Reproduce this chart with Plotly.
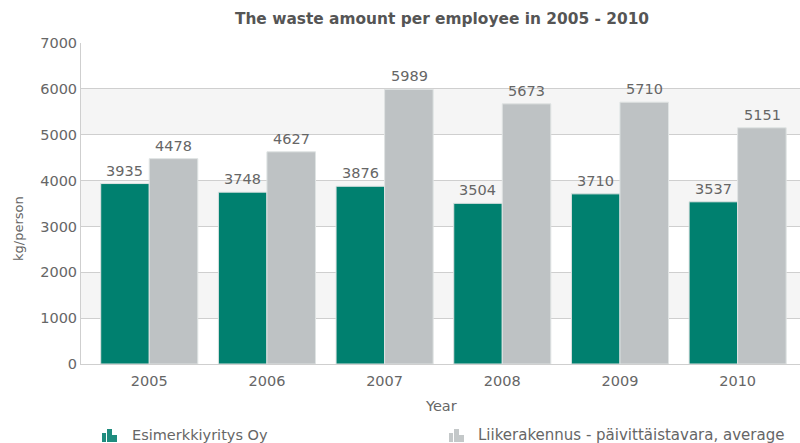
import plotly.graph_objects as go

years = ["2005", "2006", "2007", "2008", "2009", "2010"]
company = [3935, 3748, 3876, 3504, 3710, 3537]
average = [4478, 4627, 5989, 5673, 5710, 5151]
company_name = "Esimerkkiyritys Oy"
average_name = "Liikerakennus - päivittäistavara, average"
bands = [(1000, 2000), (3000, 4000), (5000, 6000)]

W, H = 800, 443
L, R, T, B = 81, 800, 43, 364
TXT = "#666666"
GRID = "#cfcfcf"
FONT = "DejaVu Sans"

fig = go.Figure()
for name, vals, col in [(company_name, company, "#00806F"), (average_name, average, "#BEC2C4")]:
    fig.add_bar(x=years, y=vals, name=name, marker=dict(color=col, line=dict(color="#dfe3e3", width=1)),
                showlegend=False)

shapes = []
for a, b in bands:
    shapes.append(dict(type="rect", xref="paper", yref="y", x0=0, x1=1, y0=a, y1=b,
                       fillcolor="#f5f5f5", line_width=0, layer="below"))

def icon(x0, col):
    for dx, w, h in [(0, 4, 9), (5, 5, 13), (10, 5, 7)]:
        shapes.append(dict(type="rect", xref="paper", yref="paper",
                           x0=(x0 + dx - L) / (R - L), x1=(x0 + dx + w - L) / (R - L),
                           y0=(B - 442) / (B - T), y1=(B - 442 + h) / (B - T),
                           fillcolor=col, line_width=0))
icon(102, "#1f8c7e")
icon(449, "#c4c8c9")

annotations = [
    dict(text=company_name, xref="paper", yref="paper", x=(130 - L) / (R - L), y=(B - 435) / (B - T),
         xanchor="left", yanchor="middle", showarrow=False, font=dict(family=FONT, size=14.5, color=TXT)),
    dict(text=average_name, xref="paper", yref="paper", x=(476 - L) / (R - L), y=(B - 435) / (B - T),
         xanchor="left", yanchor="middle", showarrow=False, font=dict(family=FONT, size=15, color=TXT)),
    dict(text="kg/person", xref="paper", yref="paper", x=(18 - L) / (R - L), y=(B - 229) / (B - T),
         xanchor="center", yanchor="middle", textangle=-90, showarrow=False,
         font=dict(family=FONT, size=13, color=TXT)),
    dict(text="Year", xref="paper", yref="paper", x=(441 - L) / (R - L), y=(B - 406) / (B - T),
         xanchor="center", yanchor="middle", showarrow=False, font=dict(family=FONT, size=14.5, color=TXT)),
]
for vals, shift in [(company, -24.5), (average, 24.5)]:
    for i, v in enumerate(vals):
        annotations.append(dict(text=str(v), x=i, y=v, xref="x", yref="y", xshift=shift, yshift=3,
                                xanchor="center", yanchor="bottom", showarrow=False,
                                font=dict(family=FONT, size=14.5, color=TXT)))

fig.update_layout(
    width=W, height=H, autosize=False, barmode="group", bargap=0.175, bargroupgap=0,
    margin=dict(l=L, r=W - R, t=T, b=H - B), paper_bgcolor="white", plot_bgcolor="white",
    title=dict(text="<b>The waste amount per employee in 2005 - 2010</b>", x=442/W, xanchor="center",
               y=1 - 19/H, yanchor="middle", font=dict(family=FONT, size=15.4, color="#555555")),
    shapes=shapes, annotations=annotations, showlegend=False,
    xaxis=dict(type="category", range=[-0.58, 5.53], showgrid=False, ticks="outside", ticklen=4, tickcolor="rgba(0,0,0,0)",
               showline=True, linecolor=GRID, linewidth=1,
               tickfont=dict(family=FONT, size=14.5, color=TXT)),
    yaxis=dict(range=[0, 7000], dtick=1000, gridcolor=GRID, gridwidth=1, zeroline=False, showline=True, linecolor=GRID,
               linewidth=1, mirror=True, ticks="", tickfont=dict(family=FONT, size=14.5, color=TXT)),
)
fig.write_html("out.html", config=dict(displayModeBar=False),
               post_script="document.body.style.margin='0';")
